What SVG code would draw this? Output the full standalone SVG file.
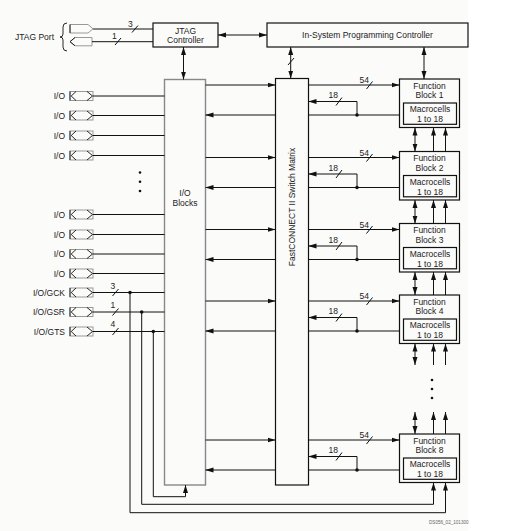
<svg xmlns="http://www.w3.org/2000/svg" width="509" height="531" viewBox="0 0 509 531">
<style>
text{font-family:"Liberation Sans",Arial,sans-serif;font-size:8.5px;fill:#222}
.c{text-anchor:middle}
.r{text-anchor:end}
.ln{stroke:#111;stroke-width:1;fill:none}
.box{stroke:#111;stroke-width:1.2;fill:none}
.gbox{stroke:#888;stroke-width:1.4;fill:none}
.pg{stroke:#999;stroke-width:1;fill:none}
.pk{stroke:#111;stroke-width:0.9;fill:none}
.a{marker-end:url(#ah)}
.b{marker-start:url(#ah);marker-end:url(#ah)}
.dot{fill:#111}
</style>
<defs>
<marker id="ah" markerUnits="userSpaceOnUse" markerWidth="8" markerHeight="6" refX="8" refY="3" orient="auto-start-reverse">
<path d="M0,0.5 L8,3 L0,5.5 z" fill="#111"/>
</marker>
<g id="pad">
<rect x="70" y="-4.5" width="23" height="9" class="pg"/>
<path d="M70,-4.5 V4.5 M76,-4.5 L71.2,0 L76,4.5 M87,-4.5 L92.5,0 L87,4.5" class="pk"/>
</g>
</defs>
<rect x="0" y="0" width="468" height="531" fill="#fbfbfa"/>
<rect x="468" y="0" width="41" height="531" fill="#fff"/>

<g id="jtag-port">
<text x="15" y="40">JTAG Port</text>
<path d="M67,23 Q63,23 63,27 L63,34 Q63,37 60,37 Q63,37 63,40 L63,47 Q63,51 67,51" class="pk"/>
<path d="M70,24.5 L88,24.5 L93,28.8 L88,33 L70,33 Z" class="pg"/>
<path d="M70,24.5 V33" class="pk"/>
<path d="M92,37.5 L75,37.5 L70,41.7 L75,45.8 L92,45.8 Z" class="pg"/>
<path d="M75,37.5 L70,41.7 L75,45.8" class="pk"/>
</g>

<g id="jtag-controller">
<rect x="153" y="23" width="65" height="24" class="box"/>
<text class="c" x="185.5" y="33.5">JTAG</text>
<text class="c" x="185.5" y="43">Controller</text>
</g>

<g id="isp-controller">
<rect x="267" y="23" width="201" height="24" class="box"/>
<text class="c" x="367.5" y="38">In-System Programming Controller</text>
</g>

<g id="io-blocks">
<rect x="164.5" y="79.5" width="41" height="405.5" class="gbox"/>
<text class="c" x="185" y="195.5">I/O</text>
<text class="c" x="185" y="206">Blocks</text>
</g>

<g id="switch-matrix">
<rect x="275.5" y="78.5" width="33" height="406.5" class="box"/>
<text class="c" transform="translate(295,207) rotate(-90)">FastCONNECT II Switch Matrix</text>
</g>

<g id="io-pins">
<text class="r" x="65" y="99">I/O</text><use href="#pad" y="96"/>
<text class="r" x="65" y="118.5">I/O</text><use href="#pad" y="115.5"/>
<text class="r" x="65" y="138.5">I/O</text><use href="#pad" y="135.5"/>
<text class="r" x="65" y="158.5">I/O</text><use href="#pad" y="155.5"/>
<text class="r" x="65" y="217.5">I/O</text><use href="#pad" y="214.5"/>
<text class="r" x="65" y="237.5">I/O</text><use href="#pad" y="234.5"/>
<text class="r" x="65" y="257">I/O</text><use href="#pad" y="254"/>
<text class="r" x="65" y="276.5">I/O</text><use href="#pad" y="273.5"/>
<text class="r" x="65" y="295.5">I/O/GCK</text><use href="#pad" y="292.5"/>
<text class="r" x="65" y="315">I/O/GSR</text><use href="#pad" y="312"/>
<text class="r" x="65" y="334.5">I/O/GTS</text><use href="#pad" y="331.5"/>
<circle class="dot" cx="140" cy="172.5" r="1.3"/>
<circle class="dot" cx="140" cy="181.8" r="1.3"/>
<circle class="dot" cx="140" cy="191" r="1.3"/>
</g>

<g id="fb1">
<rect x="399.5" y="79" width="60" height="48.5" class="box"/>
<rect x="403.5" y="103" width="53" height="21.3" class="box"/>
<text class="c" x="429.5" y="88.7">Function</text>
<text class="c" x="429.5" y="98.3">Block 1</text>
<text class="c" x="430" y="112">Macrocells</text>
<text class="c" x="430" y="122">1 to 18</text>
</g>
<g id="fb2">
<rect x="399.5" y="151.5" width="60" height="48.5" class="box"/>
<rect x="403.5" y="175.5" width="53" height="21.3" class="box"/>
<text class="c" x="429.5" y="161.2">Function</text>
<text class="c" x="429.5" y="170.8">Block 2</text>
<text class="c" x="430" y="184.5">Macrocells</text>
<text class="c" x="430" y="194.5">1 to 18</text>
</g>
<g id="fb3">
<rect x="399.5" y="223.5" width="60" height="48.5" class="box"/>
<rect x="403.5" y="247.5" width="53" height="21.3" class="box"/>
<text class="c" x="429.5" y="233.2">Function</text>
<text class="c" x="429.5" y="242.8">Block 3</text>
<text class="c" x="430" y="256.5">Macrocells</text>
<text class="c" x="430" y="266.5">1 to 18</text>
</g>
<g id="fb4">
<rect x="399.5" y="295" width="60" height="48.5" class="box"/>
<rect x="403.5" y="319" width="53" height="21.3" class="box"/>
<text class="c" x="429.5" y="304.7">Function</text>
<text class="c" x="429.5" y="314.3">Block 4</text>
<text class="c" x="430" y="328">Macrocells</text>
<text class="c" x="430" y="338">1 to 18</text>
</g>
<g id="fb8">
<rect x="399.5" y="434" width="60" height="48.5" class="box"/>
<rect x="403.5" y="458" width="53" height="21.3" class="box"/>
<text class="c" x="429.5" y="443.7">Function</text>
<text class="c" x="429.5" y="453.3">Block 8</text>
<text class="c" x="430" y="467">Macrocells</text>
<text class="c" x="430" y="477">1 to 18</text>
</g>
<g id="fb-dots">
<circle class="dot" cx="432" cy="380" r="1.3"/>
<circle class="dot" cx="432" cy="389" r="1.3"/>
<circle class="dot" cx="432" cy="398" r="1.3"/>
</g>

<g id="connectors">
<!-- JTAG port lines -->
<path class="ln" d="M93,29 H153 M92,41.7 H153"/>
<path class="ln" d="M132,32.5 L138,25.5 M115,45 L121,38"/>
<text x="128" y="26.5">3</text>
<text x="112" y="38.5">1</text>
<!-- JTAG - ISP -->
<path class="ln b" d="M218,35 H267"/>
<!-- JTAG - IO blocks -->
<path class="ln b" d="M183.5,47 V79.5"/>
<!-- ISP - switch -->
<path class="ln b" d="M290.7,47 V78.5"/>
<path class="ln" d="M288,65 L294,58"/>
<!-- ISP - FB column -->
<path class="ln b" d="M424,47 V79"/>

<!-- IO pins to IO blocks -->
<path class="ln" d="M93,96 H164.5 M93,115.5 H164.5 M93,135.5 H164.5 M93,155.5 H164.5 M93,214.5 H164.5 M93,234.5 H164.5 M93,254 H164.5 M93,273.5 H164.5 M93,292.5 H164.5 M93,312 H164.5 M93,331.5 H164.5"/>
<path class="ln" d="M112.5,296 L118.5,289 M112.5,315.5 L118.5,308.5 M112.5,335 L118.5,328"/>
<text x="110.5" y="288.5">3</text>
<text x="110.5" y="307.5">1</text>
<text x="110.5" y="327">4</text>
<circle class="dot" cx="130" cy="292.5" r="1.8"/>
<circle class="dot" cx="141.7" cy="312" r="1.8"/>
<circle class="dot" cx="153.3" cy="331.5" r="1.8"/>
<path class="ln" d="M130,292.5 V512.7 H445.5"/>
<path class="ln" d="M141.7,312 V504.3 H433.5"/>
<path class="ln" d="M153.3,331.5 V496.7 H185.5"/>
<path class="ln a" d="M185.5,496.7 V485"/>
<path class="ln a" d="M433.5,504.3 V482.5"/>
<path class="ln a" d="M445.5,512.7 V482.5"/>

<!-- IO blocks <-> switch matrix -->
<path class="ln a" d="M205.5,85 H275.5"/>
<path class="ln a" d="M275.5,115 H205.5"/>
<path class="ln a" d="M205.5,157.5 H275.5"/>
<path class="ln a" d="M275.5,187.5 H205.5"/>
<path class="ln a" d="M205.5,229.5 H275.5"/>
<path class="ln a" d="M275.5,259.5 H205.5"/>
<path class="ln a" d="M205.5,301 H275.5"/>
<path class="ln a" d="M275.5,331 H205.5"/>
<path class="ln a" d="M205.5,440 H275.5"/>
<path class="ln a" d="M275.5,470 H205.5"/>

<!-- switch matrix <-> FB1 -->
<path class="ln a" d="M308.5,85 H399.5"/>
<path class="ln" d="M308.5,115 H399.5"/>
<path class="ln a" d="M357,115 V101.5 H308.5"/>
<circle class="dot" cx="357" cy="115" r="1.8"/>
<path class="ln" d="M366.5,89 L372.5,81.5 M336,105.5 L342,97.5"/>
<text x="359.5" y="83">54</text>
<text x="328.5" y="98">18</text>
<!-- FB2 -->
<path class="ln a" d="M308.5,157.5 H399.5"/>
<path class="ln" d="M308.5,187.5 H399.5"/>
<path class="ln a" d="M357,187.5 V174 H308.5"/>
<circle class="dot" cx="357" cy="187.5" r="1.8"/>
<path class="ln" d="M366.5,161.5 L372.5,154 M336,178 L342,170"/>
<text x="359.5" y="155.5">54</text>
<text x="328.5" y="170.5">18</text>
<!-- FB3 -->
<path class="ln a" d="M308.5,229.5 H399.5"/>
<path class="ln" d="M308.5,259.5 H399.5"/>
<path class="ln a" d="M357,259.5 V246 H308.5"/>
<circle class="dot" cx="357" cy="259.5" r="1.8"/>
<path class="ln" d="M366.5,233.5 L372.5,226 M336,250 L342,242"/>
<text x="359.5" y="227.5">54</text>
<text x="328.5" y="242.5">18</text>
<!-- FB4 -->
<path class="ln a" d="M308.5,301 H399.5"/>
<path class="ln" d="M308.5,331 H399.5"/>
<path class="ln a" d="M357,331 V317.5 H308.5"/>
<circle class="dot" cx="357" cy="331" r="1.8"/>
<path class="ln" d="M366.5,305 L372.5,297.5 M336,321.5 L342,313.5"/>
<text x="359.5" y="299">54</text>
<text x="328.5" y="314">18</text>
<!-- FB8 -->
<path class="ln a" d="M308.5,440 H399.5"/>
<path class="ln" d="M308.5,470 H399.5"/>
<path class="ln a" d="M357,470 V456.5 H308.5"/>
<circle class="dot" cx="357" cy="470" r="1.8"/>
<path class="ln" d="M366.5,444 L372.5,436.5 M336,460.5 L342,452.5"/>
<text x="359.5" y="438">54</text>
<text x="328.5" y="453">18</text>

<!-- FB column links -->
<path class="ln b" d="M415,127.5 V151.5"/>
<path class="ln a" d="M433.5,151.5 V127.5"/>
<path class="ln a" d="M445.5,151.5 V127.5"/>
<path class="ln b" d="M415,200 V223.5"/>
<path class="ln a" d="M433.5,223.5 V200"/>
<path class="ln a" d="M445.5,223.5 V200"/>
<path class="ln b" d="M415,272 V295"/>
<path class="ln a" d="M433.5,295 V272"/>
<path class="ln a" d="M445.5,295 V272"/>
<path class="ln b" d="M415,343.5 V365"/>
<path class="ln a" d="M433.5,365 V343.5"/>
<path class="ln a" d="M445.5,365 V343.5"/>
<path class="ln b" d="M415,412 V434"/>
<path class="ln a" d="M433.5,412 V434" style="marker-end:none;marker-start:url(#ah)"/>
<path class="ln a" d="M445.5,412 V434" style="marker-end:none;marker-start:url(#ah)"/>
</g>

<text x="429" y="524" style="font-size:4.6px;fill:#666">DS056_02_101300</text>
</svg>
